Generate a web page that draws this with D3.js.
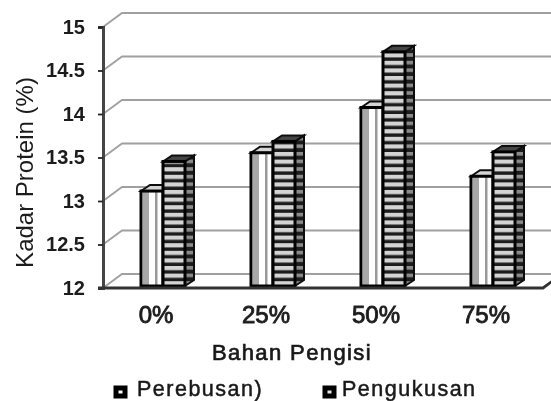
<!DOCTYPE html>
<html>
<head>
<meta charset="utf-8">
<script src="https://d3js.org/d3.v7.min.js"></script>
<style>
  html, body { margin: 0; padding: 0; background: #fff; }
  svg { display: block; }
  text { font-family: "Liberation Sans", Arial, sans-serif; fill: #1a1a1a; }
</style>
</head>
<body>
<svg id="chart" width="551" height="401"></svg>
<script>
var categories = ['0%', '25%', '50%', '75%'];
var perebusan = [13.08, 13.52, 14.04, 13.25];
var pengukusan = [13.42, 13.65, 14.68, 13.53];
var yTicks = [12, 12.5, 13, 13.5, 14, 14.5, 15];
var yTickLabels = ['12', '12.5', '13', '13.5', '14', '14.5', '15'];
var seriesNames = ['Perebusan)', 'Pengukusan'];

var svg = d3.select('#chart');
var defs = svg.append('defs');

// slight blur, the original is a resized scan
defs.append('filter').attr('id', 'soft')
  .append('feGaussianBlur').attr('stdDeviation', 0.55);

// vertical stripes for the first series
var p1 = defs.append('pattern').attr('id', 'vstripe').attr('patternUnits', 'userSpaceOnUse')
  .attr('x', 141).attr('width', 110).attr('height', 10);
p1.append('rect').attr('width', 110).attr('height', 10).attr('fill', '#fff');
p1.append('rect').attr('x', 2).attr('width', 6).attr('height', 10).attr('fill', '#a8a8a8');
p1.append('rect').attr('x', 14).attr('width', 2.5).attr('height', 10).attr('fill', '#999');

// horizontal stripes for the second series
var p2 = defs.append('pattern').attr('id', 'hstripe').attr('patternUnits', 'userSpaceOnUse')
  .attr('width', 10).attr('height', 7.6);
p2.append('rect').attr('width', 10).attr('height', 7.6).attr('fill', '#d4d4d4');
p2.append('rect').attr('y', 4.2).attr('width', 10).attr('height', 3.4).attr('fill', '#1c1c1c');

// side face hatching
var p3 = defs.append('pattern').attr('id', 'side').attr('patternUnits', 'userSpaceOnUse')
  .attr('width', 10).attr('height', 7.6);
p3.append('rect').attr('width', 10).attr('height', 7.6).attr('fill', '#8a8a8a');
p3.append('rect').attr('y', 3.6).attr('width', 10).attr('height', 4).attr('fill', '#1c1c1c');

// scales
var y = d3.scaleLinear().domain([12, 15]).range([288, 27]);
var x = d3.scaleBand().domain(categories).range([108, 548]).paddingInner(0.6).paddingOuter(0.3);
var depthX = 19, depthY = 14;   // wall offset of the 3d frame
var barDX = 9, barDY = 6;       // depth of a bar
var lift = 3;                   // bars stand a little in from the front edge

var plot = svg.append('g').attr('filter', 'url(#soft)');

// back wall lines
plot.selectAll('.grid').data(yTicks).join('path')
  .attr('class', 'grid')
  .attr('fill', 'none')
  .attr('stroke', '#a0a0a0')
  .attr('stroke-width', 1.8)
  .attr('d', function(d) {
    return 'M' + 103 + ',' + y(d) + 'L' + (103 + depthX) + ',' + (y(d) - depthY) + 'H551';
  });

function drawBar(g, bx, bw, v, front, top) {
  var yt = y(v) - lift, yb = 286;
  g.append('path').attr('d', 'M' + (bx + bw) + ',' + yt + 'l' + barDX + ',' + (-barDY) + 'V' + (yb - barDY) + 'l' + (-barDX) + ',' + barDY + 'Z')
    .attr('fill', 'url(#side)').attr('stroke', '#111').attr('stroke-width', 2);
  g.append('path').attr('d', 'M' + bx + ',' + yt + 'l' + barDX + ',' + (-barDY) + 'h' + bw + 'l' + (-barDX) + ',' + barDY + 'Z')
    .attr('fill', top).attr('stroke', '#111').attr('stroke-width', 2);
  g.append('rect').attr('x', bx).attr('y', yt).attr('width', bw).attr('height', yb - yt)
    .attr('fill', front).attr('stroke', '#000').attr('stroke-width', 3);
}

categories.forEach(function(c, i) {
  var bw = x.bandwidth() / 2;
  var g = plot.append('g');
  drawBar(g, x(c), bw, perebusan[i], 'url(#vstripe)', '#d5d5d5');
  drawBar(g, x(c) + bw, bw, pengukusan[i], 'url(#hstripe)', '#444');
});

// y axis with outer ticks
var yAxis = d3.axisLeft(y).tickValues(yTicks)
  .tickFormat(function(d, i) { return yTickLabels[i]; })
  .tickSize(5).tickPadding(13);
var yg = svg.append('g').attr('transform', 'translate(103,0)').attr('filter', 'url(#soft)').call(yAxis);
yg.select('.domain').attr('stroke', '#444').attr('stroke-width', 3);
yg.selectAll('.tick line').attr('stroke', '#222').attr('stroke-width', 1.8);
yg.selectAll('text').attr('font-size', 20).attr('font-weight', 'bold').style('font-family', '"Liberation Sans"').attr('fill', '#222');

// floor line and x labels
var xAxis = d3.axisBottom(x).tickSize(0).tickPadding(18);
var xg = svg.append('g').attr('transform', 'translate(-7,288)').attr('filter', 'url(#soft)').call(xAxis);
xg.select('.domain').remove();
xg.selectAll('text').attr('font-size', 24).attr('stroke', '#222').attr('stroke-width', 0.9)
  .style('font-family', '"Liberation Sans"').attr('fill', '#222');
svg.append('path').attr('d', 'M98,' + y(12) + 'H543L' + (543 + depthX) + ',' + (y(12) - depthY))
  .attr('fill', 'none').attr('stroke', '#333').attr('stroke-width', 2.8).attr('filter', 'url(#soft)');

// titles
var labels = svg.append('g').attr('filter', 'url(#soft)');
labels.append('text').attr('transform', 'translate(33,172.5) rotate(-90)')
  .attr('text-anchor', 'middle').attr('font-size', 24).text('Kadar Protein (%)');
labels.append('text').attr('x', 292).attr('y', 360).attr('text-anchor', 'middle')
  .attr('font-size', 22).attr('stroke', '#1a1a1a').attr('stroke-width', 0.7)
  .attr('letter-spacing', 1.4).text('Bahan Pengisi');

// legend
var legendX = [116, 325];
var textX = [137, 342];
seriesNames.forEach(function(name, i) {
  labels.append('rect').attr('x', legendX[i]).attr('y', 388).attr('width', 9).attr('height', 8)
    .attr('fill', i ? '#e5e5e5' : '#fff').attr('stroke', '#000').attr('stroke-width', 5);
  labels.append('text').attr('x', textX[i]).attr('y', 395.5).attr('font-size', 21.5)
    .attr('stroke', '#1a1a1a').attr('stroke-width', 0.5)
    .attr('letter-spacing', 1.5).text(name);
});
</script>
</body>
</html>
